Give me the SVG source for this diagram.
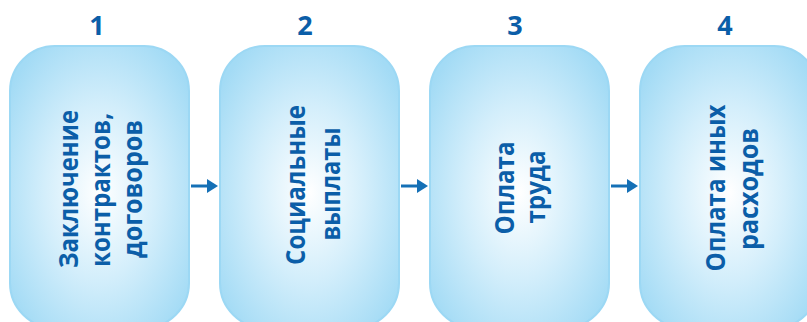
<svg xmlns="http://www.w3.org/2000/svg" width="807" height="322" viewBox="0 0 807 322">
<style>
.box{fill:url(#g);stroke:#9cd8f4;stroke-width:2}
.num{font-family:"Open Sans",sans-serif;font-weight:700;font-size:27px;fill:#0b5ea8;text-anchor:middle}
.lbl{font-family:"Open Sans",sans-serif;font-weight:700;font-size:26px;fill:#0b5ea8;text-anchor:middle}
.arr{stroke:#1570b6;stroke-width:3;fill:none}
.head{fill:#1570b6}
</style>
<defs>
<radialGradient id="g" cx="0.5" cy="0.52" r="0.62">
<stop offset="0" stop-color="#ffffff"/>
<stop offset="0.5" stop-color="#d3eefb"/>
<stop offset="1" stop-color="#a3dbf5"/>
</radialGradient>
</defs>
<rect width="807" height="322" fill="#ffffff"/>
<g id="node1">
<text class="num" x="97" y="35">1</text>
<rect class="box" x="10" y="46" width="179" height="282" rx="45"/>
<text class="lbl" transform="translate(78,189) rotate(-90)" textLength="158" lengthAdjust="spacingAndGlyphs">Заключение</text>
<text class="lbl" transform="translate(110,190) rotate(-90)" textLength="154" lengthAdjust="spacingAndGlyphs">контрактов,</text>
<text class="lbl" transform="translate(142,189) rotate(-90)" textLength="138" lengthAdjust="spacingAndGlyphs">договоров</text>
</g>
<g id="node2">
<text class="num" x="305" y="35">2</text>
<rect class="box" x="220" y="46" width="179" height="282" rx="45"/>
<text class="lbl" transform="translate(305,185) rotate(-90)" textLength="160" lengthAdjust="spacingAndGlyphs">Социальные</text>
<text class="lbl" transform="translate(340,184) rotate(-90)" textLength="113" lengthAdjust="spacingAndGlyphs">выплаты</text>
</g>
<g id="node3">
<text class="num" x="515" y="35">3</text>
<rect class="box" x="430" y="46" width="179" height="282" rx="45"/>
<text class="lbl" transform="translate(514,188) rotate(-90)" textLength="93" lengthAdjust="spacingAndGlyphs">Оплата</text>
<text class="lbl" transform="translate(545,187) rotate(-90)" textLength="73" lengthAdjust="spacingAndGlyphs">труда</text>
</g>
<g id="node4">
<text class="num" x="725" y="35">4</text>
<rect class="box" x="640" y="46" width="179" height="282" rx="45"/>
<text class="lbl" transform="translate(725,188) rotate(-90)" textLength="167" lengthAdjust="spacingAndGlyphs">Оплата иных</text>
<text class="lbl" transform="translate(758,189) rotate(-90)" textLength="122" lengthAdjust="spacingAndGlyphs">расходов</text>
</g>
<g id="connectors">
<line class="arr" x1="191" y1="186" x2="208" y2="186"/>
<polygon class="head" points="207,179 218,186 207,193"/>
<line class="arr" x1="401" y1="186" x2="418" y2="186"/>
<polygon class="head" points="417,179 428,186 417,193"/>
<line class="arr" x1="611" y1="186" x2="628" y2="186"/>
<polygon class="head" points="627,179 638,186 627,193"/>
</g>
</svg>
